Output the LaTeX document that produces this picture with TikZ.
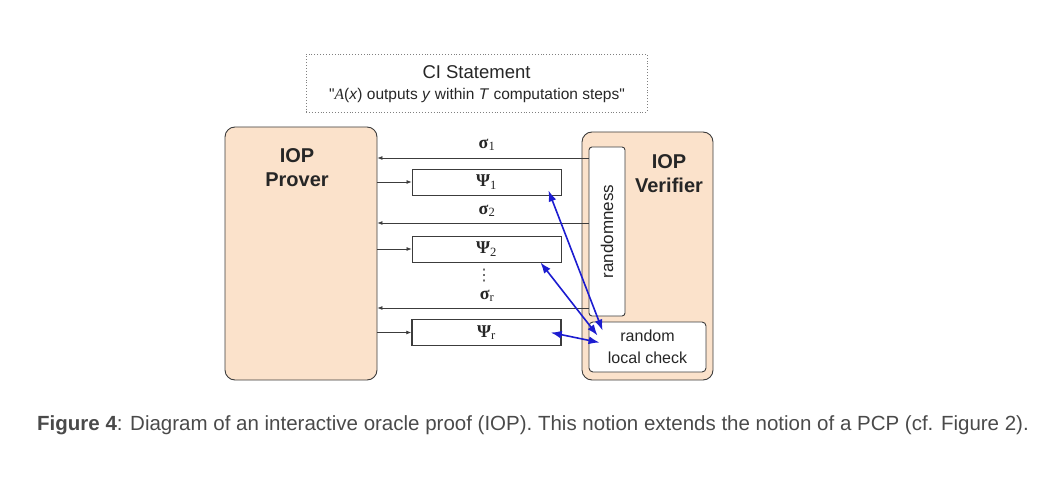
\documentclass[tikz,border=0pt]{standalone}
\usepackage{fontspec}
\setmainfont{Liberation Sans}
\newfontfamily\serifgreek{Liberation Serif}
\newfontfamily\symfont{DejaVu Sans}
\usetikzlibrary{arrows.meta}
\definecolor{peach}{HTML}{FBE2CB}
\definecolor{edge}{HTML}{3C3C3C}
\definecolor{checkblue}{HTML}{1C1CD0}
\definecolor{captiongray}{HTML}{4A4A4A}
\begin{document}
\begin{tikzpicture}[x=1pt, y=-1pt,
    party/.style={draw=edge, line width=0.9pt, fill=peach, rounded corners=10pt, inner sep=0pt},
    partytext/.style={font=\fontsize{20}{24}\selectfont\bfseries, align=center, text=black!85},
    oracle/.style={draw=edge, line width=0.9pt, fill=white, minimum width=149pt, minimum height=26pt, inner sep=0pt},
    msg/.style={draw=edge, line width=0.7pt, -{Latex[length=5pt,width=4pt]}},
    chk/.style={draw=checkblue, line width=1.6pt, {Latex[length=11pt,width=8pt]}-{Latex[length=11pt,width=8pt]}},
    greek/.style={font=\serifgreek\fontsize{18}{20}\selectfont\bfseries, text=black!85}]
  \useasboundingbox (0,0) rectangle (1041,478);
  % statement
  \node [draw=gray, dotted, line width=0.9pt, minimum width=341pt, minimum height=58pt] (ci) at (476.5,83) {};
  \node [font=\fontsize{18.5}{20}\selectfont, text=black!85] (cititle) at (476.5,72) {CI Statement};
  \node [font=\fontsize{15.5}{17}\selectfont, text=black!85] (ciquote) at (477,95)
    {\textquotedbl{\serifgreek\itshape A}(\textit{x}) outputs \textit{y} within \textit{T} computation steps\textquotedbl};
  % parties
  \node [party, minimum width=152pt, minimum height=253pt] (prover) at (301,253.5) {};
  \node [partytext] (provertext) at (297,168) {IOP\\Prover};
  \node [party, minimum width=131pt, minimum height=248pt] (verifier) at (647.5,256) {};
  \node [partytext] (verifiertext) at (669,174) {IOP\\Verifier};
  \node [draw=edge, line width=0.9pt, fill=white, rounded corners=3pt, minimum width=36pt, minimum height=169pt] (rand) at (607,231.5) {};
  \node [rotate=90, font=\fontsize{17}{18}\selectfont, text=black!85] (randtext) at (rand.center) {randomness};
  \node [draw=edge, line width=0.9pt, fill=white, rounded corners=4pt, minimum width=117pt, minimum height=50pt,
         align=center, font=\fontsize{16}{22}\selectfont, text=black!85] (check) at (647.5,347) {random\\local check};
  % oracles
  \node [oracle] (psi1) at (486.5,182) {};
  \node [oracle] (psi2) at (486.5,249) {};
  \node [oracle, line width=1.5pt] (psir) at (486.5,332.5) {};
  \node [greek] at (psi1.center) {Ψ\textsubscript{\mdseries 1}};
  \node [greek] at (psi2.center) {Ψ\textsubscript{\mdseries 2}};
  \node [greek] at (psir.center) {Ψ\textsubscript{\mdseries r}};
  \node [greek] (sig1) at (487,145) {σ\textsubscript{\mdseries 1}};
  \node [greek] (sig2) at (487,211) {σ\textsubscript{\mdseries 2}};
  \node [greek] (sigr) at (487,296) {σ\textsubscript{\mdseries r}};
  \node [font=\symfont\fontsize{16}{18}\selectfont, text=black!70] (dots) at (484,276) {⋮};
  % messages
  \draw [msg] (rand.west |- 0,158) -- (prover.east |- 0,158);
  \draw [msg] (rand.west |- 0,223) -- (prover.east |- 0,223);
  \draw [msg] (rand.west |- 0,308) -- (prover.east |- 0,308);
  \draw [msg] (prover.east |- psi1.west) -- (psi1.west);
  \draw [msg] (prover.east |- psi2.west) -- (psi2.west);
  \draw [msg] (prover.east |- psir.west) -- (psir.west);
  % queries
  \draw [chk] ([shift={(-13,-5)}]psi1.south east) -- ([shift={(14,9)}]check.north west);
  \draw [chk] ([shift={(-21,0)}]psi2.south east) -- ([shift={(9,14)}]check.north west);
  \draw [chk] ([shift={(-11,0)}]psir.east) -- ([shift={(11,21)}]check.north west);
  % caption
  \node [anchor=base west, inner sep=0pt, text=captiongray] (caption) at (37,430)
    {\fontsize{20.5}{24}\selectfont\textbf{Figure 4}: Diagram of an interactive oracle proof (IOP). This notion extends the notion of a PCP (cf. Figure 2).};
\end{tikzpicture}
\end{document}
